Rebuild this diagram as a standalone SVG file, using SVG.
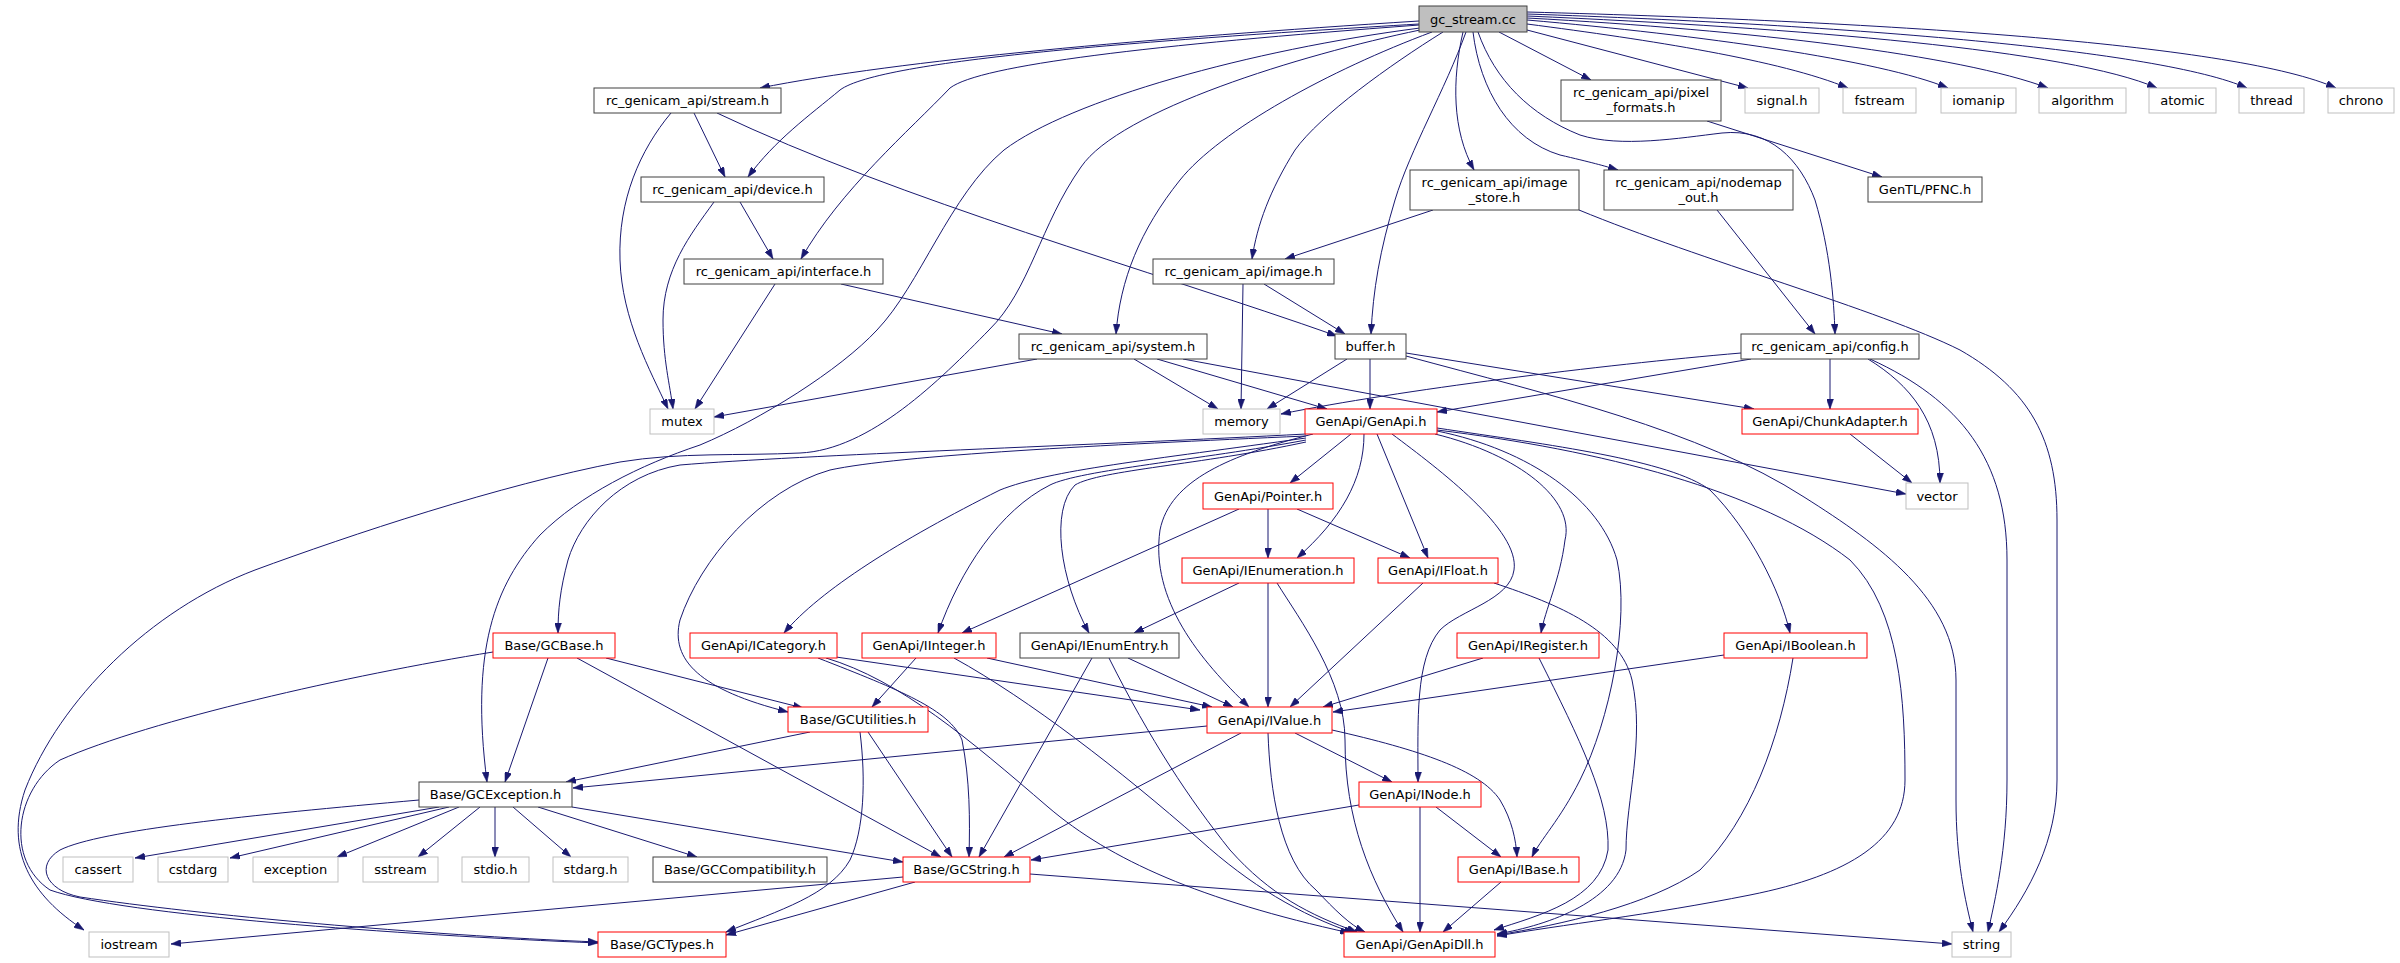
<svg xmlns="http://www.w3.org/2000/svg" width="2400" height="963" viewBox="0 0 2400 963">
<style>
rect{fill:#fff;stroke-width:1}
.k{stroke:#404040}
.r{stroke:#ff0000}
.g{stroke:#bfbfbf}
.m{fill:#bfbfbf;stroke:#404040}
text{font-family:"DejaVu Sans",Verdana,sans-serif;font-size:13px;text-anchor:middle;fill:#000}
#edges path{fill:none;stroke:#191970;stroke-width:1;marker-end:url(#a)}
</style>
<defs>
<marker id="a" markerUnits="userSpaceOnUse" markerWidth="10" markerHeight="7" refX="10" refY="3.5" orient="auto" viewBox="0 0 10 7">
<path d="M0,0 L10,3.5 L0,7 z" fill="#191970" stroke="#191970" stroke-width="0.5"/>
</marker>
</defs>
<rect x="0" y="0" width="2400" height="963" style="fill:#fff;stroke:none"/>
<g id="edges">
<!-- gc_stream.cc -->
<path d="M1419,21 C1150,38 900,60 760,88"/>
<path d="M1419,24 C1150,40 880,60 840,90 C810,115 775,140 748,177"/>
<path d="M1419,25 C1150,45 980,65 950,88 C910,130 840,190 801,259"/>
<path d="M1420,28 C1250,50 1070,100 1004,150 C950,195 920,285 877,330 C840,370 760,420 700,445 C640,465 580,495 540,535 C495,585 470,650 487,782"/>
<path d="M1420,30 C1300,55 1120,110 1081,167 C1040,225 1030,290 989,330 C940,380 870,450 800,453 C740,456 680,452 620,462 C500,485 350,535 255,570 C150,610 60,700 25,790 C5,850 30,895 84,930"/>
<path d="M1432,32 C1330,70 1220,130 1180,180 C1140,230 1120,280 1116,334"/>
<path d="M1443,32 C1390,65 1320,115 1295,150 C1270,190 1257,225 1252,259"/>
<path d="M1466,32 C1445,90 1410,150 1395,200 C1380,250 1373,290 1371,334"/>
<path d="M1463,32 C1452,80 1452,130 1474,170"/>
<path d="M1473,32 C1480,90 1510,140 1560,155 C1590,162 1605,166 1618,170"/>
<path d="M1478,32 C1495,80 1530,115 1580,135 C1620,148 1680,138 1722,133 C1770,128 1800,160 1815,200 C1830,250 1834,300 1835,334"/>
<path d="M1499,32 L1591,80"/>
<path d="M1527,30 L1748,88"/>
<path d="M1527,24 C1650,40 1780,60 1848,88"/>
<path d="M1527,20 C1700,35 1880,60 1948,88"/>
<path d="M1527,18 C1750,30 1960,55 2048,88"/>
<path d="M1527,16 C1800,28 2070,50 2157,88"/>
<path d="M1527,14 C1850,25 2160,50 2247,88"/>
<path d="M1527,12 C1900,22 2240,45 2336,88"/>
<!-- stream.h -->
<path d="M671,113 C640,150 618,200 620,260 C622,320 650,370 668,409"/>
<path d="M694,113 L725,177"/>
<path d="M717,113 C900,200 1150,270 1337,336"/>
<!-- device.h -->
<path d="M714,202 C690,235 663,270 663,320 C663,360 670,385 673,409"/>
<path d="M740,202 L773,259"/>
<!-- interface.h -->
<path d="M775,284 L695,409"/>
<path d="M841,284 L1062,334"/>
<!-- image_store.h -->
<path d="M1433,210 L1285,259"/>
<path d="M1579,210 C1700,260 1880,310 1960,350 C2030,390 2057,440 2057,520 L2057,780 C2057,840 2030,890 1999,932"/>
<!-- nodemap_out / pixel_formats -->
<path d="M1717,210 L1815,334"/>
<path d="M1707,121 L1882,177"/>
<!-- image.h -->
<path d="M1243,284 L1241,409"/>
<path d="M1264,284 L1345,334"/>
<!-- system.h -->
<path d="M1037,359 L714,417"/>
<path d="M1134,359 L1218,409"/>
<path d="M1157,359 L1327,409"/>
<path d="M1183,359 L1906,494"/>
<!-- buffer.h -->
<path d="M1347,359 L1267,409"/>
<path d="M1370,359 L1370,409"/>
<path d="M1406,353 L1754,409"/>
<path d="M1406,356 C1550,395 1700,430 1804,497 C1880,545 1956,600 1956,680 L1956,800 C1956,860 1965,900 1973,932"/>
<!-- config.h -->
<path d="M1741,353 C1600,365 1400,390 1281,414"/>
<path d="M1751,359 L1437,412"/>
<path d="M1830,359 L1830,409"/>
<path d="M1868,359 C1910,385 1940,420 1940,483"/>
<path d="M1870,359 C1960,400 2007,460 2007,560 L2007,780 C2007,850 1995,900 1988,932"/>
<!-- ChunkAdapter -->
<path d="M1850,434 L1912,483"/>
<!-- GenApi.h -->
<path d="M1306,434 C1100,445 800,455 680,465 C620,475 580,520 568,560 C560,590 558,610 558,633"/>
<path d="M1306,436 C1100,445 900,455 830,470 C760,490 700,560 680,620 C670,660 700,690 788,712"/>
<path d="M1306,438 C1150,460 1050,470 1000,490 C900,540 820,590 784,633"/>
<path d="M1306,440 C1200,460 1080,470 1050,485 C1000,510 960,570 938,633"/>
<path d="M1306,442 C1200,465 1100,470 1075,485 C1050,510 1060,580 1089,633"/>
<path d="M1351,434 L1290,483"/>
<path d="M1364,434 C1364,480 1340,520 1297,558"/>
<path d="M1377,434 L1428,558"/>
<path d="M1313,434 C1230,455 1170,480 1160,530 C1150,600 1200,660 1249,707"/>
<path d="M1392,434 C1440,470 1520,530 1514,570 C1510,600 1460,610 1440,630 C1415,660 1418,720 1418,782"/>
<path d="M1435,434 C1520,455 1575,500 1565,540 C1560,580 1545,610 1541,633"/>
<path d="M1437,431 C1530,450 1600,500 1617,560 C1630,620 1610,720 1580,780 C1560,820 1540,840 1532,857"/>
<path d="M1437,428 C1550,445 1670,460 1710,490 C1750,530 1780,590 1790,633"/>
<path d="M1437,430 C1600,450 1760,490 1850,560 C1900,610 1905,700 1905,780 C1905,840 1850,875 1750,895 C1650,915 1560,925 1497,936"/>
<!-- ICategory -->
<path d="M836,657 L1200,710"/>
<path d="M818,658 C900,690 950,710 962,740 C970,780 970,820 969,857"/>
<path d="M826,658 C900,680 970,740 1048,807 C1110,860 1200,900 1350,933"/>
<!-- GCBase -->
<path d="M606,658 L803,708"/>
<path d="M577,658 L941,857"/>
<path d="M548,658 L505,782"/>
<path d="M493,652 C350,675 150,720 60,760 C15,790 5,860 50,890 C120,915 400,935 598,943"/>
<!-- GCException -->
<path d="M439,807 L135,858"/>
<path d="M449,807 L230,858"/>
<path d="M459,807 L337,857"/>
<path d="M480,807 L418,857"/>
<path d="M495,807 L495,857"/>
<path d="M513,807 L571,857"/>
<path d="M538,807 L697,857"/>
<path d="M572,807 L903,862"/>
<path d="M419,800 C250,815 100,830 60,850 C35,865 45,890 80,897 C200,915 420,935 598,942"/>
<!-- GCUtilities -->
<path d="M810,732 L566,782"/>
<path d="M868,732 L952,857"/>
<path d="M860,732 C866,780 864,830 850,860 C830,895 780,910 726,932"/>
<!-- IInteger -->
<path d="M916,658 L872,707"/>
<path d="M987,658 L1212,707"/>
<path d="M954,658 C1030,700 1120,770 1200,840 C1250,885 1300,915 1354,933"/>
<!-- IEnumEntry -->
<path d="M1092,658 L979,857"/>
<path d="M1109,658 C1150,740 1190,800 1230,850 C1270,895 1310,915 1357,932"/>
<path d="M1128,658 L1233,707"/>
<!-- IEnumeration -->
<path d="M1239,583 L1134,633"/>
<path d="M1268,583 L1268,707"/>
<path d="M1277,583 C1300,620 1345,680 1345,740 C1345,820 1370,880 1403,932"/>
<!-- Pointer -->
<path d="M1239,509 L962,633"/>
<path d="M1268,509 L1268,558"/>
<path d="M1297,509 L1410,558"/>
<!-- IFloat -->
<path d="M1423,583 L1290,707"/>
<path d="M1494,583 C1560,605 1620,630 1632,680 C1645,740 1626,800 1626,850 C1620,900 1550,925 1497,934"/>
<!-- IRegister -->
<path d="M1483,658 L1323,707"/>
<path d="M1539,658 C1580,740 1610,800 1608,850 C1600,900 1540,915 1494,930"/>
<!-- IBoolean -->
<path d="M1724,655 L1333,712"/>
<path d="M1793,658 C1780,740 1750,820 1700,870 C1650,905 1560,925 1497,935"/>
<!-- IValue -->
<path d="M1207,726 L573,788"/>
<path d="M1241,733 L1004,857"/>
<path d="M1295,733 L1392,782"/>
<path d="M1332,730 C1420,750 1480,770 1500,800 C1512,820 1516,840 1517,857"/>
<path d="M1268,733 C1270,790 1280,860 1316,890 C1335,910 1350,925 1365,932"/>
<!-- INode -->
<path d="M1359,805 L1031,860"/>
<path d="M1420,807 L1420,932"/>
<path d="M1436,807 L1501,857"/>
<!-- IBase -->
<path d="M1501,882 L1443,932"/>
<!-- GCString -->
<path d="M903,877 L171,944"/>
<path d="M915,882 L726,935"/>
<path d="M1030,874 L1952,944"/>
</g>
<g id="n_gc_stream"><rect class="m" x="1419" y="6" width="108" height="26"/><text x="1473" y="24">gc_stream.cc</text></g>
<g id="n_stream"><rect class="k" x="594" y="88" width="187" height="25"/><text x="687.5" y="105">rc_genicam_api/stream.h</text></g>
<g id="n_signal"><rect class="g" x="1745" y="88" width="74" height="25"/><text x="1782" y="105">signal.h</text></g>
<g id="n_fstream"><rect class="g" x="1843" y="88" width="73" height="25"/><text x="1879.5" y="105">fstream</text></g>
<g id="n_iomanip"><rect class="g" x="1941" y="88" width="75" height="25"/><text x="1978.5" y="105">iomanip</text></g>
<g id="n_algorithm"><rect class="g" x="2039" y="88" width="87" height="25"/><text x="2082.5" y="105">algorithm</text></g>
<g id="n_atomic"><rect class="g" x="2149" y="88" width="67" height="25"/><text x="2182.5" y="105">atomic</text></g>
<g id="n_thread"><rect class="g" x="2239" y="88" width="65" height="25"/><text x="2271.5" y="105">thread</text></g>
<g id="n_chrono"><rect class="g" x="2328" y="88" width="66" height="25"/><text x="2361" y="105">chrono</text></g>
<g id="n_pixel_formats"><rect class="k" x="1561" y="80" width="160" height="41"/><text x="1641" y="97">rc_genicam_api/pixel</text><text x="1641" y="112">_formats.h</text></g>
<g id="n_device"><rect class="k" x="641" y="177" width="183" height="25"/><text x="732.5" y="194">rc_genicam_api/device.h</text></g>
<g id="n_image_store"><rect class="k" x="1410" y="170" width="169" height="40"/><text x="1494.5" y="186.5">rc_genicam_api/image</text><text x="1494.5" y="201.5">_store.h</text></g>
<g id="n_nodemap_out"><rect class="k" x="1604" y="170" width="189" height="40"/><text x="1698.5" y="186.5">rc_genicam_api/nodemap</text><text x="1698.5" y="201.5">_out.h</text></g>
<g id="n_pfnc"><rect class="k" x="1868" y="177" width="114" height="25"/><text x="1925" y="194">GenTL/PFNC.h</text></g>
<g id="n_interface"><rect class="k" x="684" y="259" width="199" height="25"/><text x="783.5" y="276">rc_genicam_api/interface.h</text></g>
<g id="n_image"><rect class="k" x="1153" y="259" width="181" height="25"/><text x="1243.5" y="276">rc_genicam_api/image.h</text></g>
<g id="n_system"><rect class="k" x="1019" y="334" width="188" height="25"/><text x="1113" y="351">rc_genicam_api/system.h</text></g>
<g id="n_buffer"><rect class="k" x="1335" y="334" width="71" height="25"/><text x="1370.5" y="351">buffer.h</text></g>
<g id="n_config"><rect class="k" x="1741" y="334" width="178" height="25"/><text x="1830" y="351">rc_genicam_api/config.h</text></g>
<g id="n_mutex"><rect class="g" x="650" y="409" width="64" height="25"/><text x="682" y="426">mutex</text></g>
<g id="n_memory"><rect class="g" x="1203" y="409" width="77" height="25"/><text x="1241.5" y="426">memory</text></g>
<g id="n_genapi"><rect class="r" x="1305" y="409" width="132" height="25"/><text x="1371" y="426">GenApi/GenApi.h</text></g>
<g id="n_chunkadapter"><rect class="r" x="1742" y="409" width="176" height="25"/><text x="1830" y="426">GenApi/ChunkAdapter.h</text></g>
<g id="n_pointer"><rect class="r" x="1203" y="483" width="130" height="26"/><text x="1268" y="501">GenApi/Pointer.h</text></g>
<g id="n_vector"><rect class="g" x="1906" y="483" width="62" height="26"/><text x="1937" y="501">vector</text></g>
<g id="n_ienumeration"><rect class="r" x="1182" y="558" width="172" height="25"/><text x="1268" y="575">GenApi/IEnumeration.h</text></g>
<g id="n_ifloat"><rect class="r" x="1378" y="558" width="120" height="25"/><text x="1438" y="575">GenApi/IFloat.h</text></g>
<g id="n_gcbase"><rect class="r" x="493" y="633" width="122" height="25"/><text x="554" y="650">Base/GCBase.h</text></g>
<g id="n_icategory"><rect class="r" x="690" y="633" width="147" height="25"/><text x="763.5" y="650">GenApi/ICategory.h</text></g>
<g id="n_iinteger"><rect class="r" x="862" y="633" width="134" height="25"/><text x="929" y="650">GenApi/IInteger.h</text></g>
<g id="n_ienumentry"><rect class="k" x="1020" y="633" width="159" height="25"/><text x="1099.5" y="650">GenApi/IEnumEntry.h</text></g>
<g id="n_iregister"><rect class="r" x="1457" y="633" width="142" height="25"/><text x="1528" y="650">GenApi/IRegister.h</text></g>
<g id="n_iboolean"><rect class="r" x="1724" y="633" width="143" height="25"/><text x="1795.5" y="650">GenApi/IBoolean.h</text></g>
<g id="n_gcutilities"><rect class="r" x="788" y="707" width="140" height="25"/><text x="858" y="724">Base/GCUtilities.h</text></g>
<g id="n_ivalue"><rect class="r" x="1207" y="707" width="125" height="26"/><text x="1269.5" y="725">GenApi/IValue.h</text></g>
<g id="n_gcexception"><rect class="k" x="419" y="782" width="153" height="25"/><text x="495.5" y="799">Base/GCException.h</text></g>
<g id="n_inode"><rect class="r" x="1359" y="782" width="122" height="25"/><text x="1420" y="799">GenApi/INode.h</text></g>
<g id="n_cassert"><rect class="g" x="63" y="857" width="70" height="25"/><text x="98" y="874">cassert</text></g>
<g id="n_cstdarg"><rect class="g" x="158" y="857" width="70" height="25"/><text x="193" y="874">cstdarg</text></g>
<g id="n_exception"><rect class="g" x="253" y="857" width="85" height="25"/><text x="295.5" y="874">exception</text></g>
<g id="n_sstream"><rect class="g" x="363" y="857" width="75" height="25"/><text x="400.5" y="874">sstream</text></g>
<g id="n_stdio"><rect class="g" x="462" y="857" width="67" height="25"/><text x="495.5" y="874">stdio.h</text></g>
<g id="n_stdarg"><rect class="g" x="553" y="857" width="75" height="25"/><text x="590.5" y="874">stdarg.h</text></g>
<g id="n_gccompat"><rect class="k" x="653" y="857" width="174" height="25"/><text x="740" y="874">Base/GCCompatibility.h</text></g>
<g id="n_gcstring"><rect class="r" x="903" y="857" width="127" height="25"/><text x="966.5" y="874">Base/GCString.h</text></g>
<g id="n_ibase"><rect class="r" x="1458" y="857" width="121" height="25"/><text x="1518.5" y="874">GenApi/IBase.h</text></g>
<g id="n_iostream"><rect class="g" x="89" y="932" width="80" height="25"/><text x="129" y="949">iostream</text></g>
<g id="n_gctypes"><rect class="r" x="598" y="932" width="128" height="25"/><text x="662" y="949">Base/GCTypes.h</text></g>
<g id="n_genapidll"><rect class="r" x="1344" y="932" width="151" height="25"/><text x="1419.5" y="949">GenApi/GenApiDll.h</text></g>
<g id="n_string"><rect class="g" x="1952" y="932" width="59" height="25"/><text x="1981.5" y="949">string</text></g>
</svg>
